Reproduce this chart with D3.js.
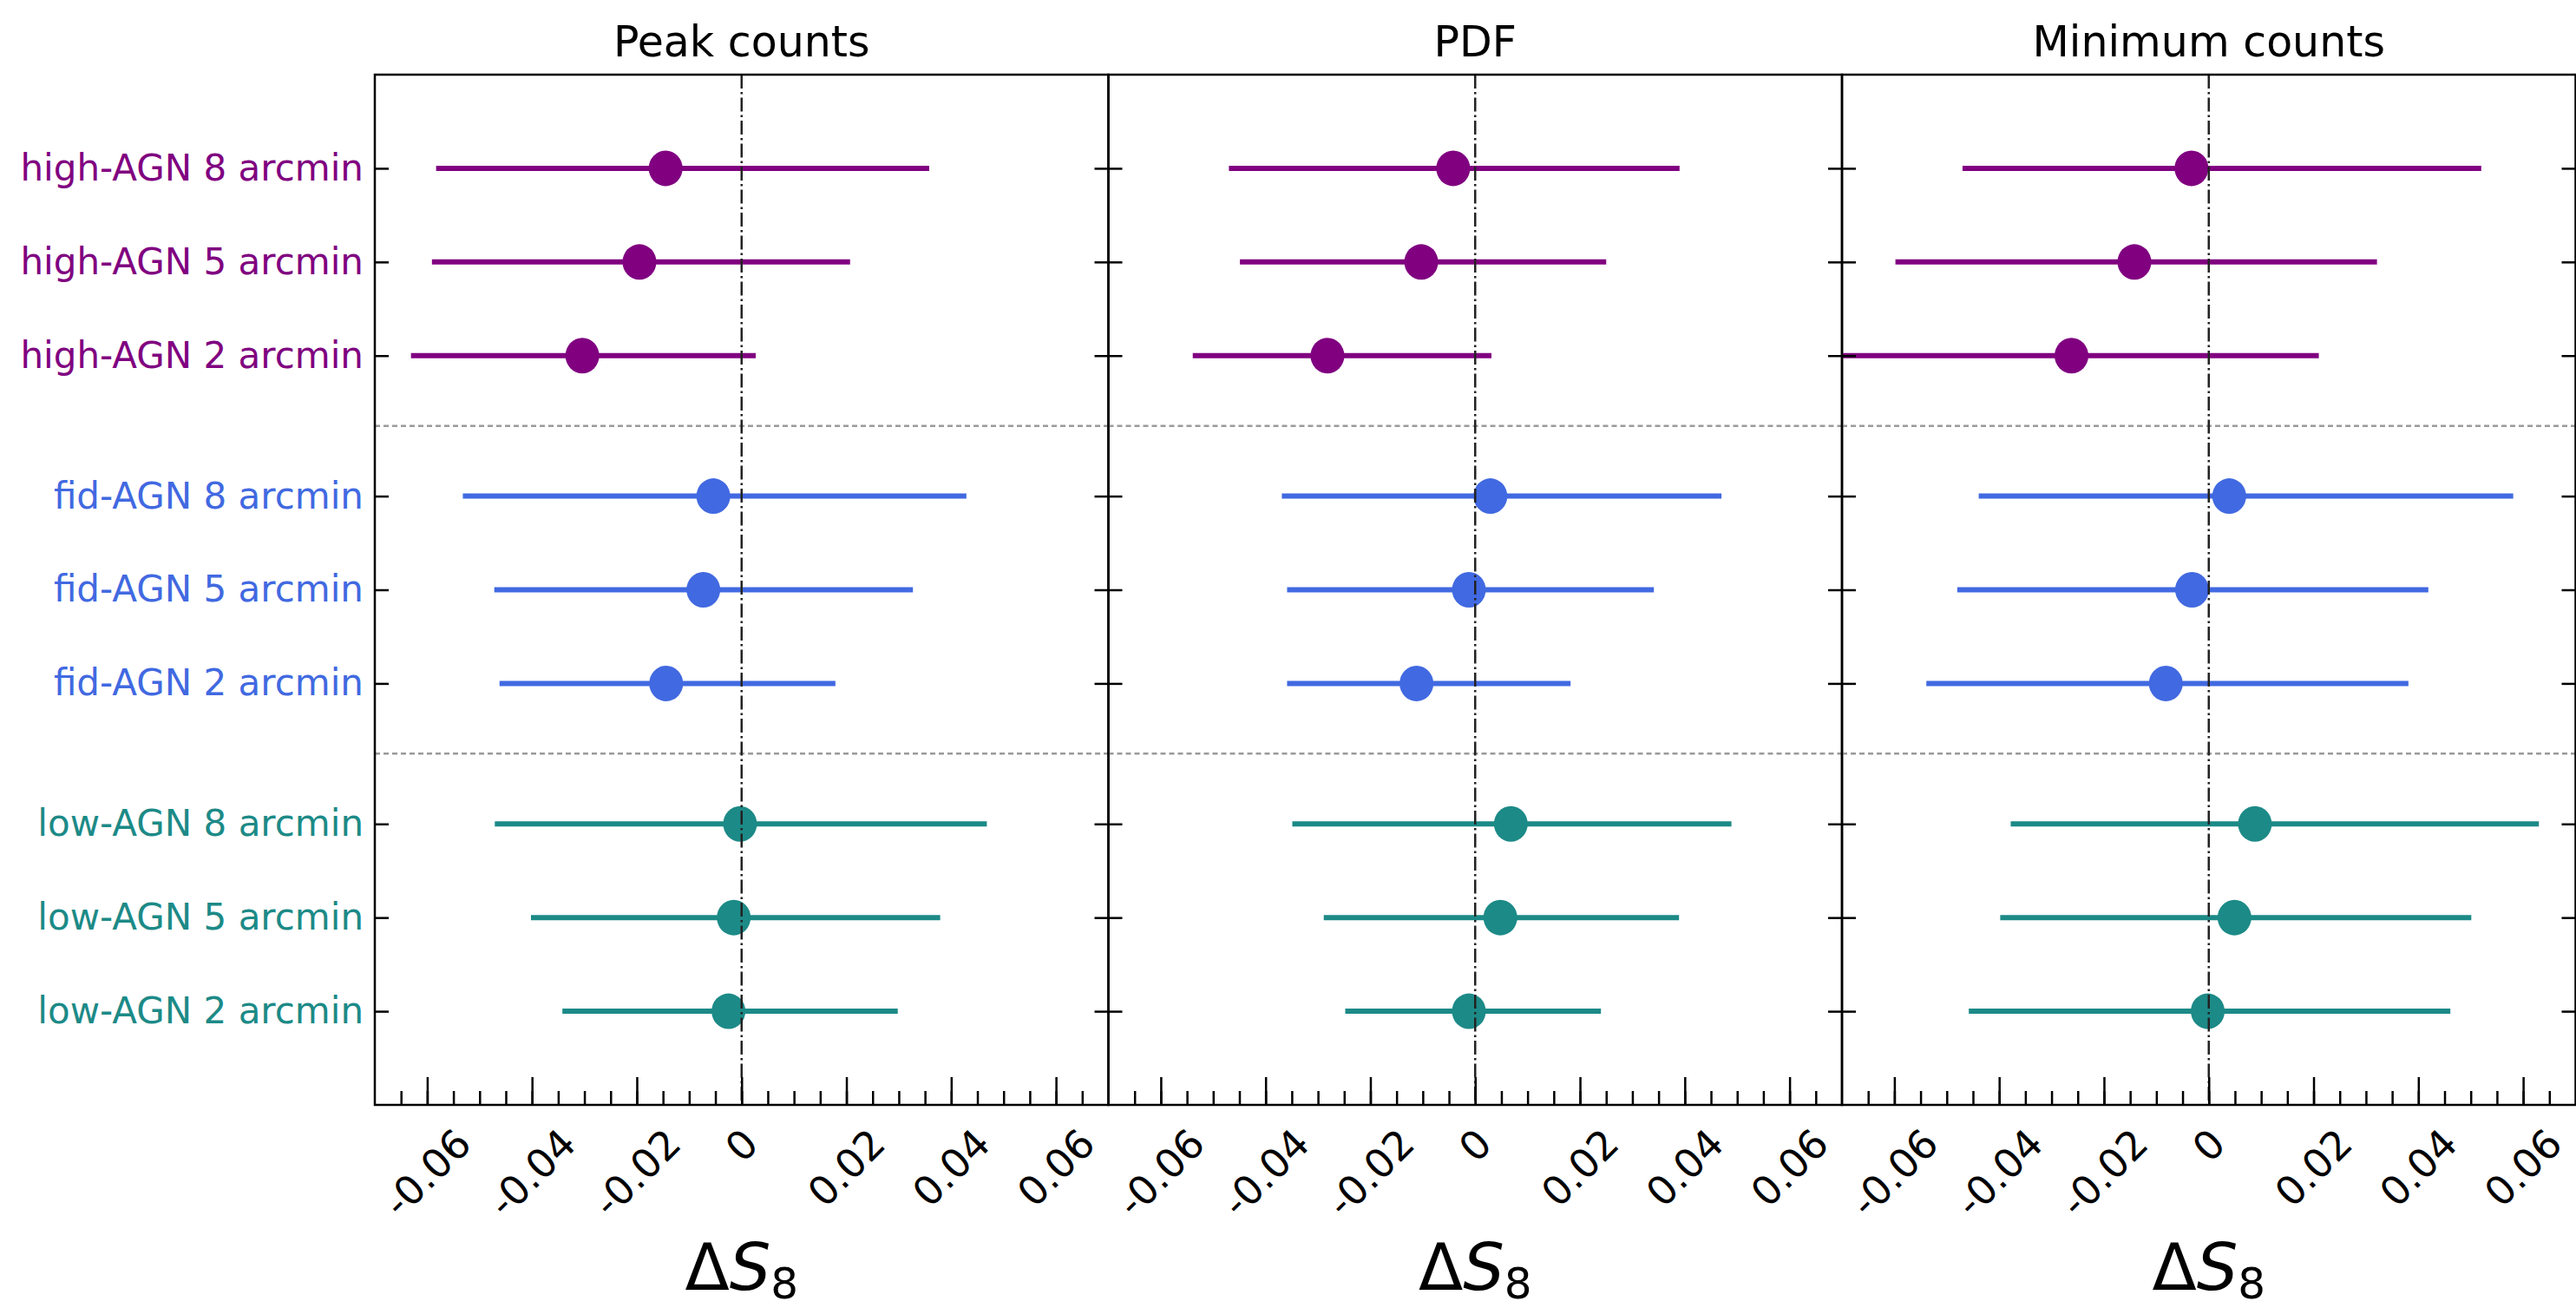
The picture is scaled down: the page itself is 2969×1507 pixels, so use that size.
<!DOCTYPE html>
<html>
<head>
<meta charset="utf-8">
<script src="https://cdn.jsdelivr.net/npm/d3@7"></script>
<style>
    body { margin: 0; background: #fff; }
    text { font-family: "DejaVu Sans", sans-serif; }
</style>
</head>
<body>
<svg id="chart" width="2969" height="1507"></svg>
<script>

/* rows, from top to bottom */
var rowLabels = ["high-AGN 8 arcmin", "high-AGN 5 arcmin", "high-AGN 2 arcmin",
    "fid-AGN 8 arcmin", "fid-AGN 5 arcmin", "fid-AGN 2 arcmin",
    "low-AGN 8 arcmin", "low-AGN 5 arcmin", "low-AGN 2 arcmin"];
var rowPos = [0, 1, 2, 3.5, 4.5, 5.5, 7, 8, 9];
var rowColors = ["#800080", "#800080", "#800080",
    "#4169e1", "#4169e1", "#4169e1",
    "#1c8a87", "#1c8a87", "#1c8a87"];
var separators = [2.75, 6.25];

var panelTitles = ["Peak counts", "PDF", "Minimum counts"];

/* Delta S8 best fit and the ends of the error bars */
var peakMid = [-0.0145, -0.0195, -0.0304, -0.0054, -0.0073, -0.0144, -0.0003, -0.0015, -0.0025];
var peakLow = [-0.0583, -0.0591, -0.0631, -0.0532, -0.0472, -0.0462, -0.0471, -0.0402, -0.0342];
var peakHigh = [0.0358, 0.0207, 0.0027, 0.0429, 0.0327, 0.0179, 0.0468, 0.0379, 0.0298];

var pdfMid = [-0.0042, -0.0103, -0.0282, 0.0029, -0.0012, -0.0112, 0.0068, 0.0048, -0.0012];
var pdfLow = [-0.0470, -0.0449, -0.0539, -0.0369, -0.0359, -0.0359, -0.0349, -0.0289, -0.0248];
var pdfHigh = [0.0390, 0.0250, 0.0031, 0.0470, 0.0341, 0.0182, 0.0489, 0.0389, 0.0240];

var minMid = [-0.0033, -0.0142, -0.0262, 0.0039, -0.0032, -0.0082, 0.0088, 0.0049, -0.0002];
var minLow = [-0.0470, -0.0598, -0.0710, -0.0439, -0.0480, -0.0539, -0.0378, -0.0398, -0.0458];
var minHigh = [0.0520, 0.0321, 0.0210, 0.0581, 0.0419, 0.0381, 0.0630, 0.0501, 0.0461];

var tickValues = [-0.06, -0.04, -0.02, 0, 0.02, 0.04, 0.06];
var tickLabels = ["-0.06", "-0.04", "-0.02", "0", "0.02", "0.04", "0.06"];
var minorTicks = d3.range(-13, 14).map(function (i) { return i * 0.005; });

var panels = [
    {title: panelTitles[0], mid: peakMid, low: peakLow, high: peakHigh},
    {title: panelTitles[1], mid: pdfMid, low: pdfLow, high: pdfHigh},
    {title: panelTitles[2], mid: minMid, low: minLow, high: minHigh}
];

var svg = d3.select("svg"),
    plotLeft = 432,
    plotTop = 86,
    plotBottom = 1273,
    panelW = 845.5;

var x = d3.scaleLinear()
    .domain([-0.07, 0.07])
    .range([0, panelW]);

var y = d3.scaleLinear()
    .domain([-1, 10])
    .range([plotTop, plotBottom]);

var rows = rowLabels.map(function (d, i) {
    return {name: d, pos: rowPos[i], color: rowColors[i]};
});

panels.forEach(function (p, k) {

    var g = svg.append("g")
        .attr("transform", "translate(" + (plotLeft + k * panelW) + ",0)");

    g.append("clipPath")
        .attr("id", "clip" + k)
        .append("rect")
        .attr("x", 0)
        .attr("y", plotTop)
        .attr("width", panelW)
        .attr("height", plotBottom - plotTop);

    var plot = g.append("g").attr("clip-path", "url(#clip" + k + ")");

    /* dotted lines between the AGN groups */
    plot.selectAll(".sep")
        .data(separators)
        .enter().append("line")
        .attr("x1", 0)
        .attr("x2", panelW)
        .attr("y1", function (d) { return y(d); })
        .attr("y2", function (d) { return y(d); })
        .style("stroke", "#9a9a9a")
        .style("stroke-width", 2.5)
        .style("stroke-dasharray", "6,4");

    plot.selectAll(".bar")
        .data(rows)
        .enter().append("line")
        .attr("x1", function (d, i) { return x(p.low[i]); })
        .attr("x2", function (d, i) { return x(p.high[i]); })
        .attr("y1", function (d) { return y(d.pos); })
        .attr("y2", function (d) { return y(d.pos); })
        .style("stroke", function (d) { return d.color; })
        .style("stroke-width", 6);

    plot.selectAll(".dot")
        .data(rows)
        .enter().append("ellipse")
        .attr("cx", function (d, i) { return x(p.mid[i]); })
        .attr("cy", function (d) { return y(d.pos); })
        .attr("rx", 19.5)
        .attr("ry", 20.5)
        .style("fill", function (d) { return d.color; });

    /* zero line on top */
    plot.append("line")
        .attr("x1", x(0))
        .attr("x2", x(0))
        .attr("y1", plotTop)
        .attr("y2", plotBottom)
        .style("stroke", "#222")
        .style("stroke-width", 2.5)
        .style("stroke-dasharray", "16,4,2.5,4");

    /* ticks, all pointing in */
    var major = g.append("g")
        .attr("transform", "translate(0," + plotBottom + ")")
        .call(d3.axisBottom(x).tickValues(tickValues).tickSize(-32).tickFormat(""));
    var minor = g.append("g")
        .attr("transform", "translate(0," + plotBottom + ")")
        .call(d3.axisBottom(x).tickValues(minorTicks).tickSize(-16).tickFormat(""));
    var yl = g.append("g")
        .call(d3.axisLeft(y).tickValues(rowPos).tickSize(-16).tickPadding(13)
            .tickFormat(function (d, i) { return k === 0 ? rowLabels[i] : ""; }));
    var yr = g.append("g")
        .attr("transform", "translate(" + panelW + ",0)")
        .call(d3.axisRight(y).tickValues(rowPos).tickSize(-16).tickFormat(""));

    [major, minor, yl, yr].forEach(function (a) {
        a.select(".domain").remove();
        a.selectAll(".tick line").style("stroke", "#000").style("stroke-width", 2.5);
    });

    yl.selectAll(".tick text")
        .style("font-size", "42px")
        .style("font-family", "DejaVu Sans")
        .style("fill", function (d, i) { return rowColors[i]; });

    /* frame */
    g.append("rect")
        .attr("x", 0)
        .attr("y", plotTop)
        .attr("width", panelW)
        .attr("height", plotBottom - plotTop)
        .style("fill", "none")
        .style("stroke", "#000")
        .style("stroke-width", 2.5);

    /* rotated tick labels */
    tickValues.forEach(function (v, i) {
        var t = g.append("text")
            .style("font-size", "46px")
            .attr("text-anchor", "middle")
            .attr("dominant-baseline", "central")
            .text(tickLabels[i]);
        var w = t.node().getComputedTextLength(),
            h = 46 * 1.0,
            half = (w + h) / Math.SQRT2 / 2;
        t.attr("transform", "translate(" + x(v) + "," + (plotBottom + 20 + half) + ") rotate(-45)");
    });

    g.append("text")
        .attr("x", panelW / 2)
        .attr("y", 65)
        .attr("text-anchor", "middle")
        .style("font-size", "49px")
        .text(p.title);

    var lab = g.append("text")
        .attr("x", panelW / 2)
        .attr("y", 1486)
        .attr("text-anchor", "middle")
        .style("font-size", "75px");
    lab.append("tspan").text("\u0394");
    lab.append("tspan").style("font-style", "italic").text("S");
    lab.append("tspan").attr("dy", 10).style("font-size", "50px").text("8");
});

</script>
</body>
</html>
